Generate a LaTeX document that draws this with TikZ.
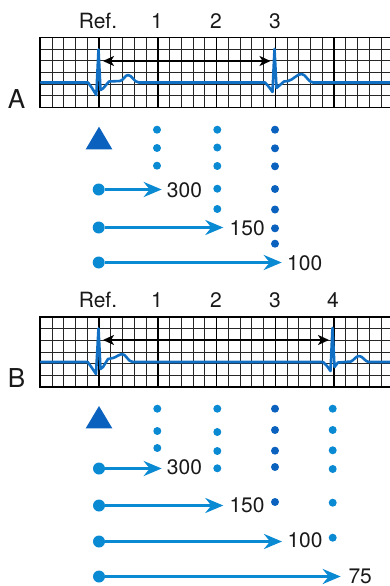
\documentclass[tikz,border=0pt]{standalone}
\usepackage{fontspec}
\setmainfont{TeX Gyre Heros}
\usetikzlibrary{arrows.meta}
\definecolor{lightblue}{HTML}{0A8AD2}
\definecolor{darkblue}{HTML}{0A62BE}
\definecolor{traceblue}{HTML}{1170C4}
\tikzset{
  minorline/.style={black!85,line width=1pt},
  majorline/.style={black,line width=1.6pt},
  trace/.style={traceblue,line width=2.6pt,line join=round,line cap=round},
  span/.style={black,line width=2pt,{Stealth[length=11pt,width=10pt,inset=3pt]}-{Stealth[length=11pt,width=10pt,inset=3pt]}},
  lbl/.style={inner sep=0pt,font=\fontsize{21}{21}\selectfont,text=black!90},
  panel/.style={inner sep=0pt,font=\fontsize{26}{26}\selectfont,text=black!90},
  ldot/.style={circle,fill=lightblue,inner sep=0pt,minimum size=8pt},
  ddot/.style={circle,fill=darkblue,inner sep=0pt,minimum size=8pt},
  start/.style={circle,fill=lightblue,inner sep=0pt,minimum size=12pt},
  rate/.style={lightblue,line width=3pt,-{Stealth[length=18pt,width=15pt,inset=6pt]}},
  marker/.style={fill=darkblue,draw=none},
}
\begin{document}
\begin{tikzpicture}[x=1pt,y=-1pt]
\useasboundingbox (0,0) rectangle (390,586);
% --- grids
\foreach \gy in {37.5,317}{
  \begin{scope}[shift={(0,\gy)}]
    \foreach \i in {0,...,6}{\draw[minorline] (40.3,{\i*11.67}) -- (390,{\i*11.67});}
    \foreach \i in {0,...,29}{\draw[minorline] ({40.3+\i*11.75},0) -- ({40.3+\i*11.75},70);}
    \foreach \i in {0,...,5}{\draw[majorline] ({40.3+\i*58.75},0) -- ({40.3+\i*58.75},70);}
    \draw[majorline] (390,0) -- (39.6,0) -- (39.6,70) -- (390,70);
  \end{scope}
}
% --- traces A
\draw[trace] (41,82.5) -- (88,82.5) -- (92,88) -- (96.3,95) -- (98.5,49.5) -- (100.5,90) -- (103,88.5) -- (109,81.5) -- (120,81)
  .. controls (124,80) and (125,75) .. (128,75) .. controls (132,75) and (134,82.5) .. (139,82.5)
  -- (265,82.5) -- (269,87) -- (272.5,92) -- (274.5,49) -- (276.5,88) -- (280,85) -- (284,81.5) -- (288,81)
  .. controls (293,80) and (297,74) .. (301.5,74) .. controls (306,74) and (308,82.5) .. (313,82.5) -- (390,82.5);
% --- traces B
\draw[trace] (41,362) -- (87.7,362) -- (92,368) -- (96,374) -- (98.5,328.5) -- (100.5,369) -- (103,367) -- (108,359) -- (113,358)
  .. controls (117,357) and (119,354) .. (122,354) .. controls (126,354) and (128,362) .. (133,362)
  -- (323,362) -- (327,366) -- (330.5,371) -- (332.5,328) -- (334.5,367) -- (338,362.5) -- (351,361.5)
  .. controls (354,360) and (356,356) .. (359,356) .. controls (363,356) and (365,362) .. (369,362) -- (390,362);
% --- column heads
\node[lbl] (refA) at (98,21) {Ref.};
\node[lbl] (a1) at (157,21) {1};
\node[lbl] (a2) at (216,21) {2};
\node[lbl] (a3) at (275,21) {3};
\node[lbl] (refB) at (98,300) {Ref.};
\node[lbl] (b1) at (157,300) {1};
\node[lbl] (b2) at (216,300) {2};
\node[lbl] (b3) at (275,300) {3};
\node[lbl] (b4) at (333,300) {4};
\node[panel] (pA) at (16.5,99) {A};
\node[panel] (pB) at (16.5,378) {B};
% --- span arrows
\coordinate (sa1) at (103,61);
\coordinate (sa2) at (270.5,61);
\coordinate (sb1) at (103,340);
\coordinate (sb2) at (329,340);
\draw[span] (sa1) -- (sa2);
\draw[span] (sb1) -- (sb2);
% --- triangles
\fill[marker] (85.7,149.3) -- (112.3,149.3) -- (99,126.7) -- cycle;
\fill[marker] (85.7,428.3) -- (112.3,428.3) -- (99,406) -- cycle;
% --- dots A
\foreach \n/\y in {1/129.7,2/148,3/165.7}{\node[ldot] (a1d\n) at (157,\y) {};}
\foreach \n/\y in {1/129.7,2/147.5,3/166,4/188.7,5/209}{\node[ldot] (a2d\n) at (217.3,\y) {};}
\foreach \n/\y in {1/129.7,2/148.3,3/166.3,4/189,5/209.5,6/228.3,7/243.7}{\node[ddot] (a3d\n) at (275,\y) {};}
% --- dots B
\foreach \n/\y in {1/408.7,2/431,3/448}{\node[ldot] (b1d\n) at (157.3,\y) {};}
\foreach \n/\y in {1/408.7,2/432,3/451,4/468.3}{\node[ldot] (b2d\n) at (217.3,\y) {};}
\foreach \n/\y in {1/408.7,2/430,3/450.7,4/467,5/502}{\node[ddot] (b3d\n) at (275,\y) {};}
\foreach \n/\y in {1/408.7,2/430,3/450.3,4/469,5/502.7,6/537.7}{\node[ldot] (b4d\n) at (332.7,\y) {};}
% --- rate arrows A
\node[start] (as1) at (98.7,189.5) {};
\node[start] (as2) at (98.7,227.5) {};
\node[start] (as3) at (98.7,262.5) {};
\coordinate (ae1) at (161.7,189.5);
\coordinate (ae2) at (223.3,227.5);
\coordinate (ae3) at (281.7,262.5);
\draw[rate] (as1) -- (ae1);
\draw[rate] (as2) -- (ae2);
\draw[rate] (as3) -- (ae3);
\node[lbl,anchor=west] (al1) at (166.7,190) {300};
\node[lbl,anchor=west] (al2) at (229.5,228) {150};
\node[lbl,anchor=west] (al3) at (287,263) {100};
% --- rate arrows B
\node[start] (bs1) at (99,468.5) {};
\node[start] (bs2) at (99,505.5) {};
\node[start] (bs3) at (99,541.5) {};
\node[start] (bs4) at (99,576.5) {};
\coordinate (be1) at (161.7,468.5);
\coordinate (be2) at (223.3,505.5);
\coordinate (be3) at (282,541.5);
\coordinate (be4) at (340.7,576.5);
\draw[rate] (bs1) -- (be1);
\draw[rate] (bs2) -- (be2);
\draw[rate] (bs3) -- (be3);
\draw[rate] (bs4) -- (be4);
\node[lbl,anchor=west] (bl1) at (166.7,467.7) {300};
\node[lbl,anchor=west] (bl2) at (229.3,505.7) {150};
\node[lbl,anchor=west] (bl3) at (287.3,540.7) {100};
\node[lbl,anchor=west] (bl4) at (348.3,576.5) {75};
\end{tikzpicture}
\end{document}
